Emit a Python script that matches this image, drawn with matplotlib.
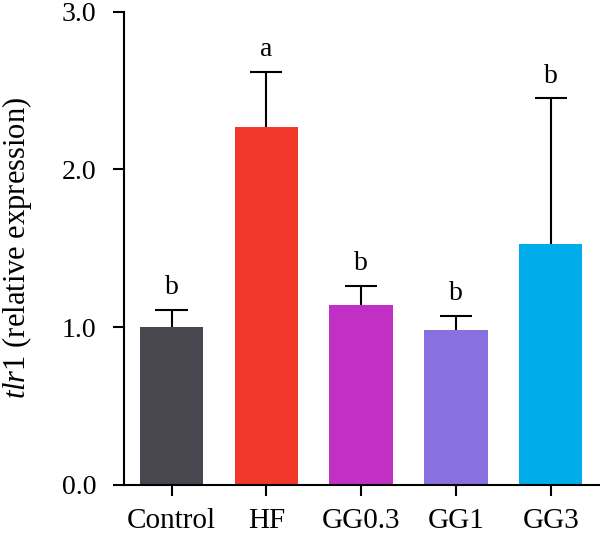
import numpy as np
import matplotlib
matplotlib.use("Agg")
import matplotlib.pyplot as plt

plt.rcParams['font.family'] = ['Liberation Serif', 'DejaVu Serif']
plt.rcParams['mathtext.fontset'] = 'custom'
plt.rcParams['mathtext.rm'] = 'Liberation Serif'
plt.rcParams['mathtext.it'] = 'Liberation Serif:italic'

# data
groups = ['Control', 'HF', 'GG0.3', 'GG1', 'GG3']
means = [1.00, 2.27, 1.14, 0.98, 1.53]
errors = [0.11, 0.35, 0.12, 0.09, 0.92]
letters = ['b', 'a', 'b', 'b', 'b']
colors = ['#48464f', '#f2382b', '#c22fc4', '#8a6fe0', '#00adea']

fig = plt.figure(figsize=(6, 5.34), dpi=100)
ax = fig.add_axes([0.207, 0.092, 0.793, 0.886])

x = np.arange(len(groups))
tops = np.array(means) + np.array(errors)
ax.bar(x, means, width=0.67, color=colors, zorder=2)
# upper error bars only
ax.vlines(x, means, tops, color='black', linewidth=1.5, zorder=1)
ax.hlines(tops, x - 0.17, x + 0.17, color='black', linewidth=1.5, zorder=1)

for xi, t, lab in zip(x, tops, letters):
    ax.annotate(lab, (xi, t), xytext=(0, 11.5), textcoords='offset points',
                ha='center', va='baseline', fontsize=20)

ax.set_xlim(-0.5, 4.52)
ax.set_ylim(0, 3.0)
ax.set_yticks([0, 1, 2, 3])
ax.set_yticklabels(['0.0', '1.0', '2.0', '3.0'])
ax.set_xticks(x)
ax.set_xticklabels(groups)
ax.tick_params(axis='both', direction='out', length=8, width=1.5)
ax.tick_params(axis='y', pad=12, labelsize=20)
ax.tick_params(axis='x', pad=9, labelsize=21)

for s in ['top', 'right']:
    ax.spines[s].set_visible(False)
for s in ['left', 'bottom']:
    ax.spines[s].set_linewidth(1.5)

ax.set_ylabel(r'$\it{tlr1}$ (relative expression)', fontsize=22, labelpad=20)

fig.savefig('out.png', dpi=100)
